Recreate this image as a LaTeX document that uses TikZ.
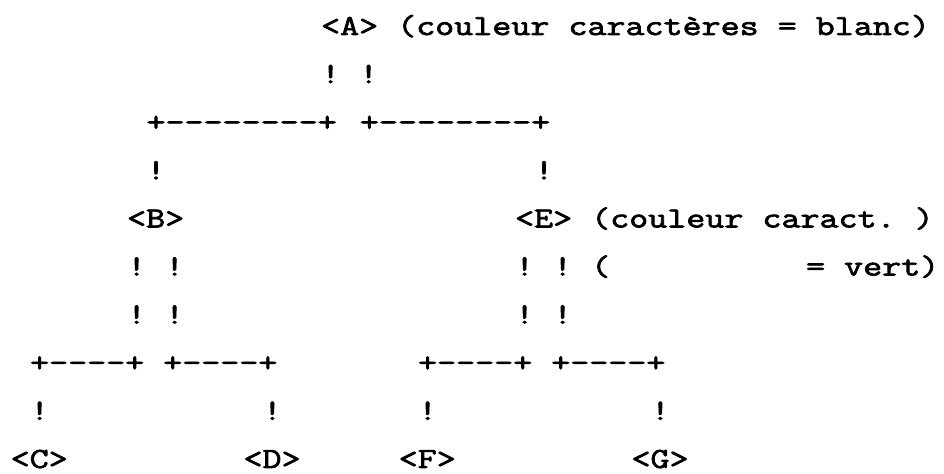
\documentclass[tikz,border=0pt]{standalone}
\usepackage{fontspec}
\setmonofont{Latin Modern Mono}[FakeStretch=1.274, FakeBold=2.5]
\usepackage{tikz}
\tikzset{
    ascii/.style={font=\ttfamily\fontsize{14.5}{17}\selectfont\frenchspacing,
        anchor=base west, inner sep=0pt, text=black},
    leaf/.style={ascii},
    pipe/.style={ascii},
    branch/.style={ascii}
}

\begin{document}
\begin{tikzpicture}
    \useasboundingbox (0pt,0pt) rectangle (472pt,-237pt);

    % one unit = one character cell of the listing
    \begin{scope}[x=9.7pt, y=-24.05pt, shift={(5.15pt,6.55pt)}]
    % racine
    \node[leaf] (A) at (16,1) {<A> (couleur caract\`eres = blanc)};
    \node[pipe] (A-pipes) at (16,2) {! !};
    \node[branch] (A-left) at (7,3) {+--------+};
    \node[branch] (A-right) at (18,3) {+--------+};
    \node[pipe] (B-up) at (7,4) {!};
    \node[pipe] (E-up) at (27,4) {!};

    % second niveau
    \node[leaf] (B) at (6,5) {<B>};
    \node[leaf] (E) at (26,5) {<E> (couleur caract. )};
    \node[pipe] (B-pipes1) at (6,6) {! !};
    \node[pipe] (E-pipes1) at (26,6) {! ! (};
    \node[ascii] (E-note) at (41,6) {= vert)};
    \node[pipe] (B-pipes2) at (6,7) {! !};
    \node[pipe] (E-pipes2) at (26,7) {! !};
    \node[branch] (B-branch) at (1,8) {+----+ +----+};
    \node[branch] (E-branch) at (21,8) {+----+ +----+};

    % feuilles
    \node[pipe] (C-up) at (1,9) {!};
    \node[pipe] (D-up) at (13,9) {!};
    \node[pipe] (F-up) at (21,9) {!};
    \node[pipe] (G-up) at (33,9) {!};
    \node[leaf] (C) at (0,10) {<C>};
    \node[leaf] (D) at (12,10) {<D>};
    \node[leaf] (F) at (20,10) {<F>};
    \node[leaf] (G) at (32,10) {<G>};
    \end{scope}
\end{tikzpicture}
\end{document}
